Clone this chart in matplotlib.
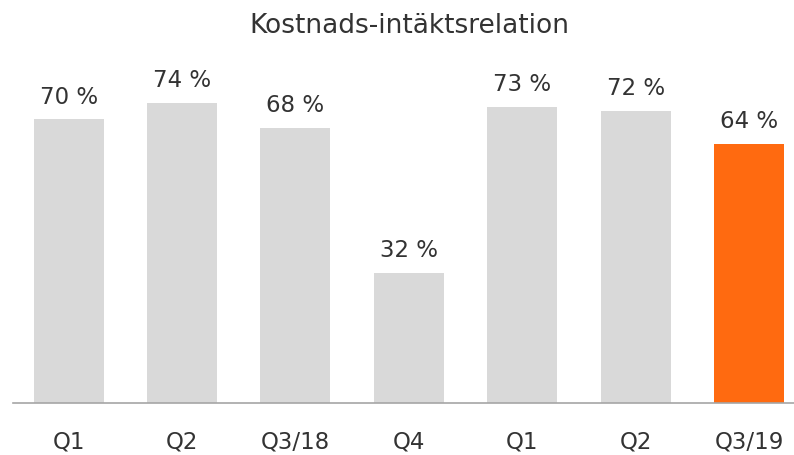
import matplotlib.pyplot as plt

# data
categories = ['Q1', 'Q2', 'Q3/18', 'Q4', 'Q1', 'Q2', 'Q3/19']
values = [70, 74, 68, 32, 73, 72, 64]
bar_colors = ['#d9d9d9'] * 6 + ['#ff6a10']

plt.rcParams['font.family'] = ['DejaVu Sans']

fig = plt.figure(figsize=(7.94, 4.55), dpi=100)
ax = fig.add_axes([13 / 794, 52 / 455, 781 / 794, 363 / 455])

x = list(range(len(categories)))
ax.bar(x, values, width=0.617, color=bar_colors, zorder=2)

# value labels above the bars
for xi, v in zip(x, values):
    ax.annotate(f'{v} %', (xi, v), xytext=(0, 11.5), textcoords='offset points',
                ha='center', va='baseline', fontsize=16.5, color='#333333')

ax.set_xlim(-0.49, -0.49 + 781 / 113.4)
ax.set_ylim(0, 363 / 4.05)

ax.set_xticks(x)
ax.set_xticklabels(categories, fontsize=16.5, color='#333333')
ax.tick_params(axis='x', length=0, pad=19.5)
ax.set_yticks([])

for side in ['top', 'right', 'left']:
    ax.spines[side].set_visible(False)
ax.spines['bottom'].set_color('#a6a6a6')
ax.spines['bottom'].set_linewidth(1.2)

#title centred over the bars
fig.text(409 / 794, 1 - 33 / 455, 'Kostnads-intäktsrelation', ha='center',
         va='baseline', fontsize=19, color='#333333')

fig.savefig('out.png', dpi=100)
plt.close()
